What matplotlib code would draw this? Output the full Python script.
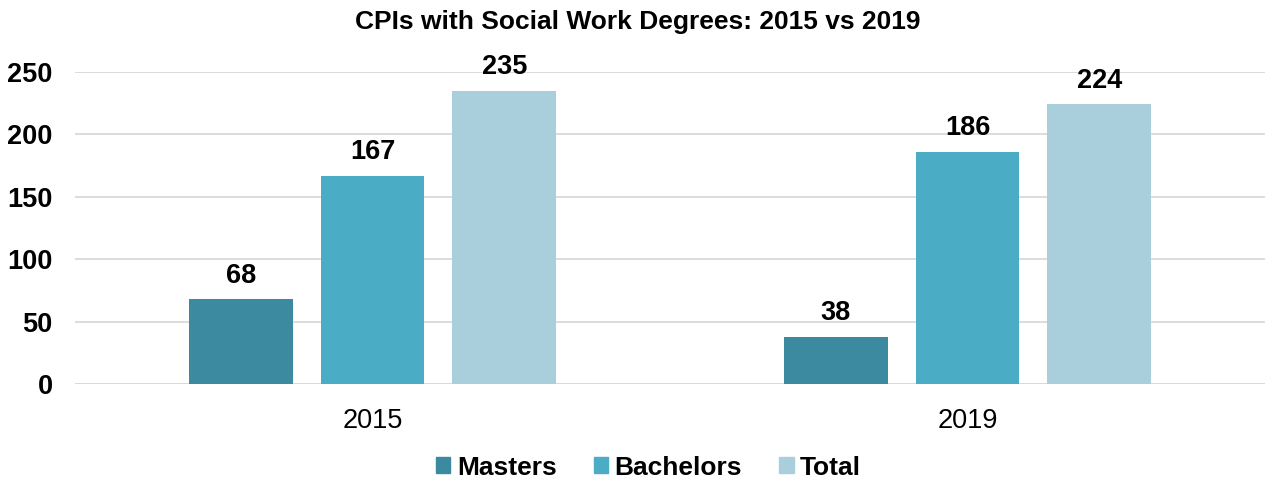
import numpy as np
import matplotlib
matplotlib.use('Agg')
import matplotlib.pyplot as plt
from matplotlib.patches import Patch

plt.rcParams['font.family'] = ['Liberation Sans', 'DejaVu Sans']

years = ['2015', '2019']
series = ['Masters', 'Bachelors', 'Total']
masters = [68, 38]
bachelors = [167, 186]
total = [235, 224]
colors = ['#3C8AA0', '#4BACC6', '#A9CFDD']

fig = plt.figure(figsize=(12.65, 4.87), dpi=100)
ax = fig.add_axes([0.0593, 0.2115, 0.9407, 0.6407])

x = np.arange(len(years))
width = 0.1745
step = 0.2215
for i, (name, vals) in enumerate(zip(series, [masters, bachelors, total])):
    pos = x + (i - 1) * step
    ax.bar(pos, vals, width, color=colors[i], label=name, zorder=3)
    for p, v in zip(pos, vals):
        ax.text(p, v + 8.5, str(v), ha='center', va='bottom', fontsize=19.5,
                fontweight='bold', clip_on=False)

ax.set_xlim(-0.5, 1.5)
ax.set_ylim(0, 250)
ax.set_yticks(range(0, 251, 50))
ax.set_xticks(x)
ax.set_xticklabels(years, fontsize=19.5)
for lbl in ax.get_yticklabels():
    lbl.set_fontsize(19.5)
    lbl.set_fontweight('bold')
ax.tick_params(length=0)
ax.tick_params(axis='y', pad=16)
ax.tick_params(axis='x', pad=17)
ax.grid(axis='y', color='#D9D9D9', linewidth=1.3, zorder=0)
for s in ax.spines.values():
    s.set_visible(False)
ax.axhline(0, color='#D9D9D9', linewidth=1.3, zorder=2)

fig.suptitle('CPIs with Social Work Degrees: 2015 vs 2019', fontsize=19,
             fontweight='bold', x=0.504, y=0.955, va='center')

handles = [Patch(color=c, label=n) for c, n in zip(colors, series)]
fig.legend(handles=handles, loc='center', bbox_to_anchor=(0.5126, 0.04), ncol=3,
           frameon=False, prop={'size': 19, 'weight': 'bold'},
           handlelength=0.55, handleheight=0.55, handletextpad=0.25,
           columnspacing=1.4)

plt.savefig('out.png', dpi=100)
